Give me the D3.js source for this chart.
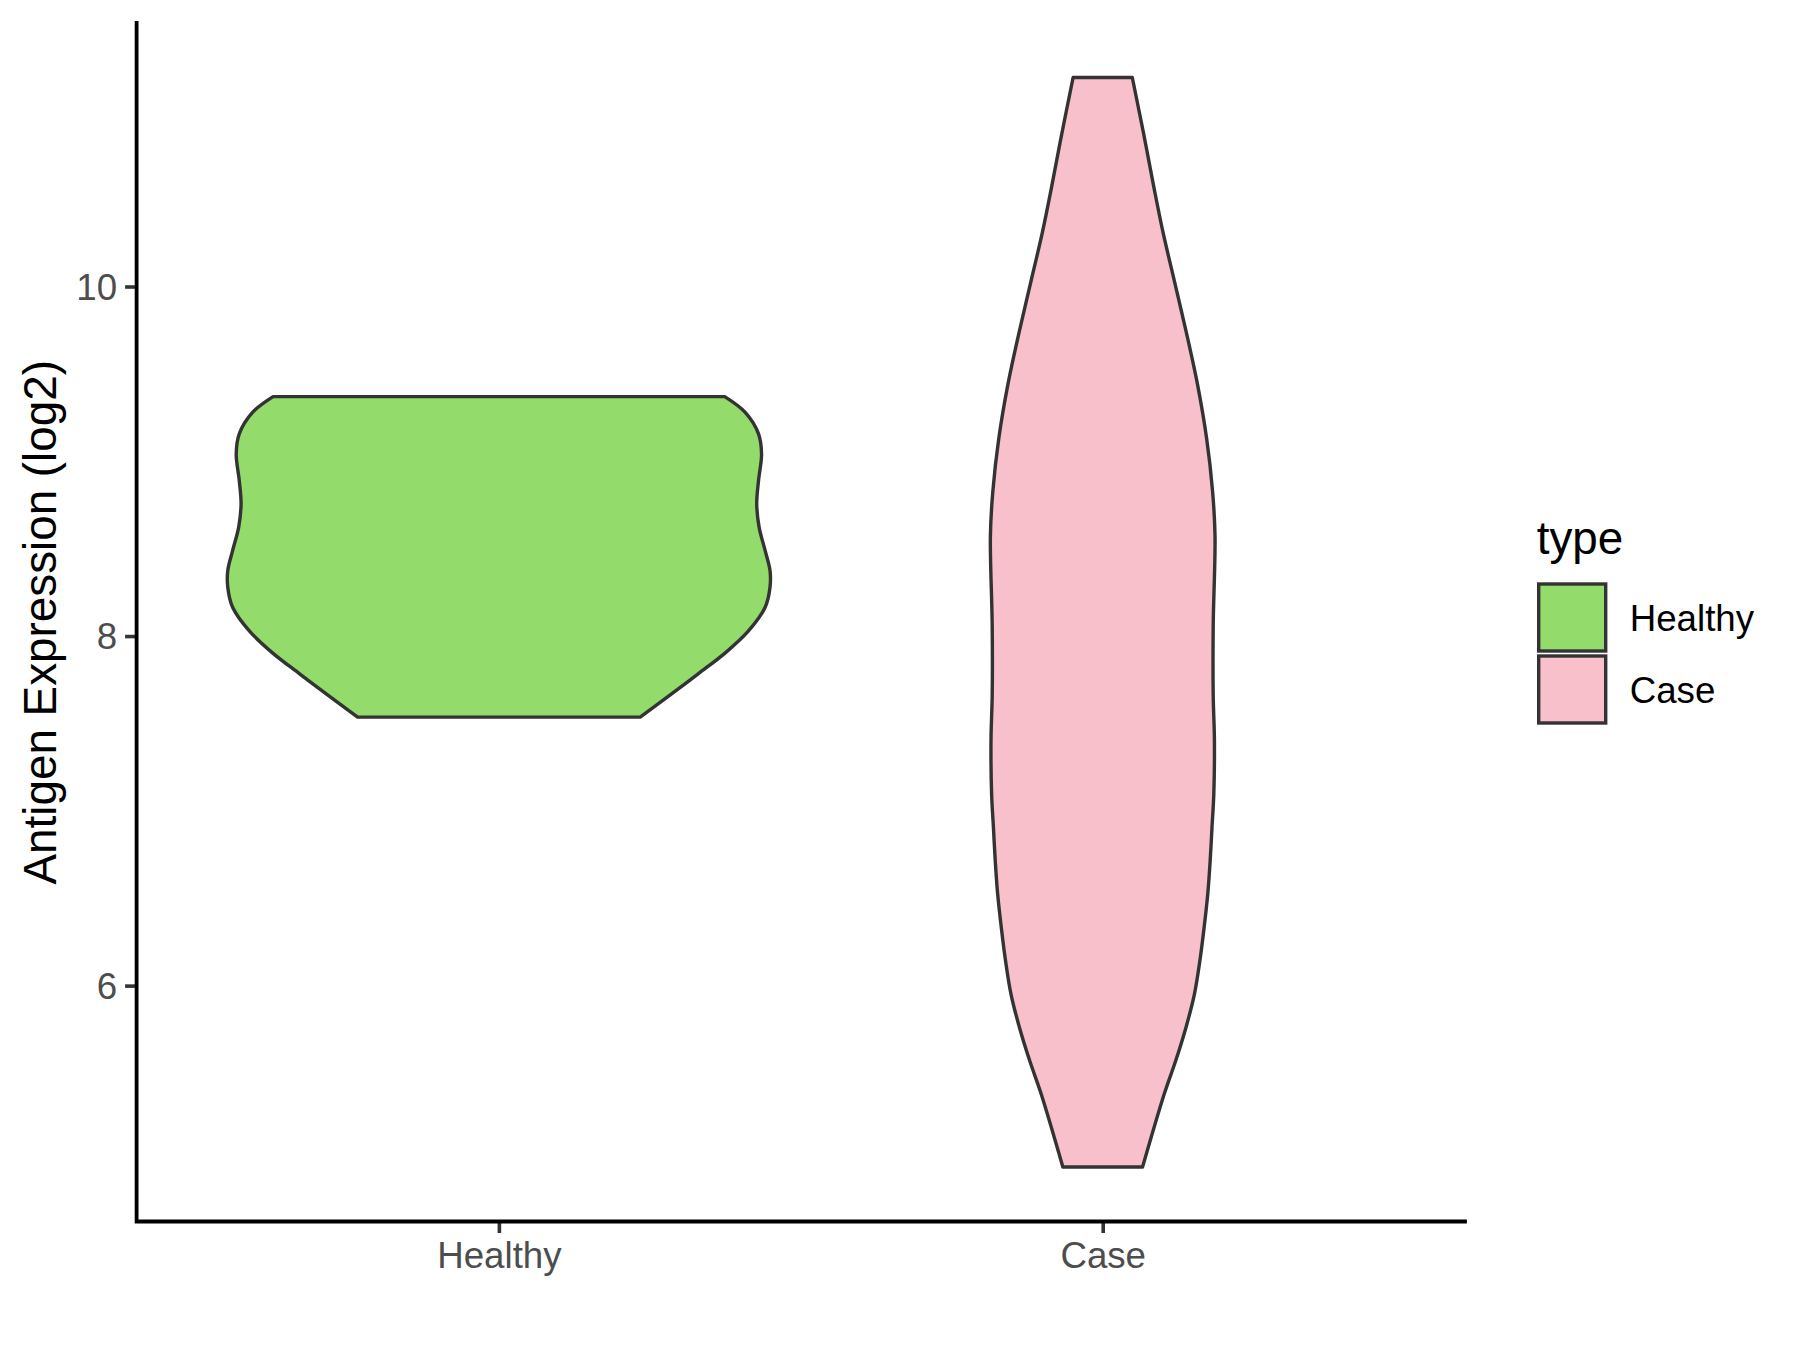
<!DOCTYPE html>
<html>
<head>
<meta charset="utf-8">
<script src="https://cdn.jsdelivr.net/npm/d3@7"></script>
<style>
  body { margin: 0; background: #fff; }
  svg { display: block; font-family: "Liberation Sans", Arial, sans-serif; }
</style>
</head>
<body>
<svg id="chart"></svg>
<script>
var width = 1800,
    height = 1350;

// categories and colours
var categories = ["Healthy", "Case"];
var fills = ["#93DB6A", "#F7C0CB"];

// violin outlines: value (log2) and half width (in category units)
var healthyValues = [9.370, 9.280, 9.157, 9.042, 8.890, 8.756, 8.622, 8.489, 8.375, 8.279, 8.165, 8.028, 7.904, 7.784, 7.669, 7.536];
var healthyWidths = [0.374, 0.408, 0.430, 0.435, 0.430, 0.427, 0.431, 0.441, 0.449, 0.449, 0.441, 0.413, 0.375, 0.330, 0.286, 0.234];

var caseValues = [11.196, 10.87, 10.563, 10.308, 10.027, 9.745, 9.44, 9.133, 8.827, 8.571, 8.06, 7.662, 7.406, 7.097, 6.906, 6.716, 6.525, 6.334, 6.144, 5.953, 5.762, 5.571, 5.381, 4.962];
var caseWidths = [0.049, 0.068, 0.085, 0.100, 0.119, 0.138, 0.157, 0.172, 0.182, 0.186, 0.183, 0.183, 0.185, 0.184, 0.181, 0.178, 0.174, 0.168, 0.161, 0.152, 0.138, 0.121, 0.102, 0.066];

var yTicks = [6, 8, 10];

var panel = {left: 136.6, right: 1465, top: 23, bottom: 1221.5};

var svg = d3.select("#chart")
    .attr("width", width)
    .attr("height", height);

var series = [
  {name: categories[0], fill: fills[0], values: healthyValues, widths: healthyWidths},
  {name: categories[1], fill: fills[1], values: caseValues, widths: caseWidths}
];

// y range like ggplot: data range + 5% each side
var allValues = healthyValues.concat(caseValues);
var lo = d3.min(allValues), hi = d3.max(allValues);
var pad = (hi - lo) * 0.05;

var y = d3.scaleLinear()
    .domain([lo - pad, hi + pad])
    .range([panel.bottom, panel.top]);

var x = d3.scalePoint()
    .domain(categories)
    .range([panel.left, panel.right])
    .padding(0.6);

var unit = x.step();

// violins
series.forEach(function(s) {
  var pts = s.values.map(function(v, i) { return {v: v, w: s.widths[i]}; });
  var cx = x(s.name);
  var area = d3.area()
      .curve(d3.curveCatmullRom)
      .y(function(d) { return y(d.v); })
      .x0(function(d) { return cx - d.w * unit; })
      .x1(function(d) { return cx + d.w * unit; });
  svg.append("path")
      .attr("d", area(pts))
      .attr("fill", s.fill)
      .attr("stroke", "#333333")
      .attr("stroke-width", 3.4)
      .attr("stroke-linejoin", "round");
});

// axes
var yAxis = d3.axisLeft(y)
    .tickValues(yTicks)
    .tickSize(11.5)
    .tickPadding(8)
    .tickFormat(d3.format("d"));

var gy = svg.append("g")
    .attr("transform", "translate(" + panel.left + ",0)")
    .call(yAxis);

var xAxis = d3.axisBottom(x)
    .tickSize(11.5)
    .tickPadding(8);

var gx = svg.append("g")
    .attr("transform", "translate(0," + panel.bottom + ")")
    .call(xAxis);

[gx, gy].forEach(function(g) {
  g.select(".domain").remove();
  g.selectAll(".tick line").attr("stroke", "#333333").attr("stroke-width", 3.6);
  g.selectAll(".tick text")
      .attr("fill", "#4D4D4D")
      .style("font-size", "36.7px")
      .style("font-family", "'Liberation Sans', Arial, sans-serif");
});
gx.selectAll(".tick text").attr("dy", null).attr("y", 46.5);
gy.selectAll(".tick text").attr("dy", "0.35em");

// axis lines (theme_classic)
svg.append("path")
    .attr("d", "M" + panel.left + "," + panel.top + "V" + panel.bottom + "H" + panel.right)
    .attr("fill", "none")
    .attr("stroke", "#000")
    .attr("stroke-width", 3.8)
    .attr("stroke-linecap", "square");

// y title
svg.append("text")
    .attr("transform", "translate(55.5," + ((panel.top + panel.bottom) / 2) + ") rotate(-90)")
    .attr("text-anchor", "middle")
    .style("font-size", "45.8px")
    .attr("fill", "#000")
    .text("Antigen Expression (log2)");

// legend
var legend = svg.append("g").attr("transform", "translate(1536.7,0)");

legend.append("text")
    .attr("x", 0)
    .attr("y", 554)
    .style("font-size", "45.8px")
    .attr("fill", "#000")
    .text("type");

var keys = legend.selectAll("g.key")
    .data(series)
    .enter().append("g")
    .attr("class", "key")
    .attr("transform", function(d, i) { return "translate(0," + (582 + i * 72) + ")"; });

keys.append("rect")
    .attr("x", 2)
    .attr("y", 2)
    .attr("width", 67)
    .attr("height", 67)
    .attr("fill", function(d) { return d.fill; })
    .attr("stroke", "#333333")
    .attr("stroke-width", 3.4);

keys.append("text")
    .attr("x", 93)
    .attr("y", 36)
    .attr("dy", "0.35em")
    .style("font-size", "36.7px")
    .attr("fill", "#000")
    .text(function(d) { return d.name; });
</script>
</body>
</html>
